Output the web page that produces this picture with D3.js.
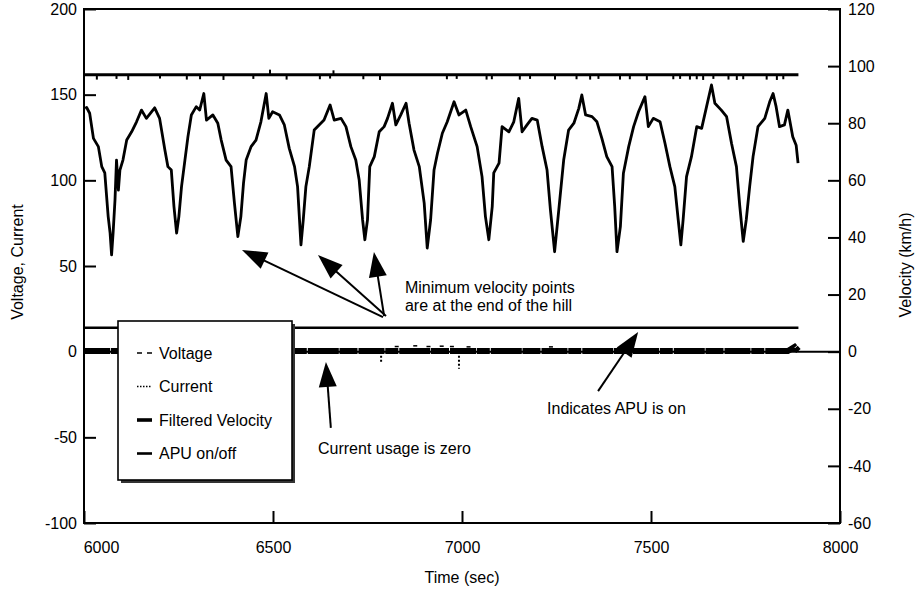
<!DOCTYPE html>
<html>
<head>
<meta charset="utf-8">
<script src="https://d3js.org/d3.v7.min.js"></script>
<style>
    body { margin: 0; background: #fff; }
    svg text { font-family: "Liberation Sans", Arial, Helvetica, sans-serif; font-size: 16px; fill: #000; }
</style>
</head>
<body>
<div id="vis"></div>
<script>
'use strict';

// axis ticks
var timeTicks = [6000, 6500, 7000, 7500, 8000];
var leftTicks = [-100, -50, 0, 50, 100, 150, 200];
var rightTicks = [-60, -40, -20, 0, 20, 40, 60, 80, 100, 120];

// filtered velocity, [time (s), km/h]
var velocity = [
    [6003, 85.2], [6007, 85.5], [6015, 83.5], [6025, 74.7], [6038, 71.8], [6047, 64.8], [6055, 62.6],
    [6064, 47.3], [6069, 41.6], [6073, 33.9], [6077, 41.6], [6082, 53.1], [6086, 67.1], [6091, 56.6],
    [6095, 63.6], [6103, 67.1], [6113, 74.1], [6126, 77.0], [6139, 80.5], [6152, 84.6], [6165, 81.7],
    [6187, 85.4], [6200, 81.7], [6214, 70.6], [6222, 64.8], [6231, 63.6], [6238, 50.8], [6245, 41.5],
    [6251, 47.3], [6258, 57.8], [6267, 67.1], [6275, 75.3], [6284, 82.9], [6297, 85.8], [6306, 84.6],
    [6317, 90.4], [6324, 81.1], [6341, 82.9], [6354, 80.0], [6363, 74.1], [6376, 67.1], [6389, 64.8],
    [6398, 52.0], [6407, 40.3], [6415, 47.3], [6422, 59.0], [6429, 67.1], [6442, 71.8], [6455, 74.1],
    [6468, 80.5], [6482, 90.4], [6489, 81.7], [6499, 84.0], [6517, 82.9], [6530, 79.4], [6543, 71.2],
    [6557, 64.8], [6565, 57.8], [6574, 37.4], [6580, 46.1], [6587, 57.8], [6596, 64.8], [6609, 77.6],
    [6622, 79.4], [6635, 81.1], [6651, 86.4], [6662, 81.1], [6680, 81.7], [6693, 78.8], [6706, 71.8],
    [6719, 67.1], [6728, 60.1], [6737, 46.2], [6743, 39.2], [6750, 46.2], [6756, 64.8], [6768, 68.3],
    [6781, 77.0], [6794, 78.8], [6803, 81.7], [6816, 87.0], [6825, 79.4], [6838, 82.9], [6852, 87.0],
    [6860, 80.0], [6873, 70.6], [6887, 64.8], [6900, 52.0], [6908, 36.3], [6917, 46.2], [6926, 63.6],
    [6935, 69.4], [6948, 76.5], [6961, 80.5], [6979, 87.5], [6992, 82.9], [7010, 84.6], [7023, 78.8],
    [7040, 71.8], [7053, 61.3], [7062, 47.3], [7071, 39.2], [7080, 50.8], [7084, 62.6], [7098, 66.0],
    [7106, 78.8], [7124, 77.0], [7137, 80.5], [7150, 88.7], [7159, 77.0], [7172, 79.4], [7185, 81.7],
    [7199, 81.1], [7212, 71.8], [7225, 63.6], [7234, 49.6], [7245, 35.0], [7256, 49.6], [7269, 67.1],
    [7282, 77.6], [7296, 80.0], [7309, 85.2], [7317, 89.9], [7327, 82.9], [7344, 82.3], [7357, 80.5],
    [7370, 74.7], [7383, 68.3], [7397, 64.8], [7404, 50.8], [7410, 35.0], [7419, 43.8], [7427, 62.5],
    [7441, 71.8], [7454, 78.8], [7467, 84.0], [7484, 89.3], [7493, 78.8], [7506, 81.7], [7524, 80.5],
    [7537, 73.0], [7550, 64.8], [7563, 57.8], [7572, 46.2], [7579, 37.4], [7585, 46.2], [7594, 61.3],
    [7607, 68.3], [7621, 78.8], [7634, 78.2], [7647, 85.8], [7660, 93.4], [7669, 87.0], [7686, 84.6],
    [7700, 82.3], [7713, 73.0], [7726, 64.8], [7735, 50.8], [7744, 38.6], [7752, 46.2], [7761, 57.8],
    [7770, 68.3], [7783, 78.8], [7801, 81.7], [7814, 87.5], [7823, 90.4], [7831, 85.8], [7840, 78.8],
    [7853, 79.4], [7862, 84.6], [7875, 75.3], [7884, 72.3], [7889, 66.0]
];

// voltage: flat level with small glitches
var voltageLevel = 161.6;
var voltage = [[6000, 161.6], [7890, 161.6]];
var voltageGlitches = [
    [6034, 158.8], [6086, 159.2], [6117, 158.6], [6201, 159.4], [6272, 158.8], [6307, 159.0],
    [6369, 158.6], [6448, 159.2], [6492, 164.6], [6536, 158.8], [6624, 159.0], [6651, 159.4],
    [6660, 164.2], [6739, 159.0], [6783, 158.6], [6960, 159.0], [6986, 159.2], [7065, 158.8],
    [7079, 159.0], [7153, 158.8], [7180, 159.2], [7246, 158.8], [7303, 159.0], [7339, 158.8],
    [7361, 159.2], [7418, 158.8], [7444, 159.0], [7489, 158.6], [7559, 159.0], [7577, 159.2],
    [7603, 158.8], [7621, 159.0], [7638, 158.6], [7665, 159.2], [7705, 158.8], [7727, 158.6],
    [7744, 159.0], [7806, 158.8], [7833, 158.6], [7850, 159.0]
];

// current: near zero, a few blips
var current = [[6000, 0.4], [7862, 0.4], [7880, 2.8], [7890, 0.4]];
var currentSpikes = [[6786, -6.5], [6992, -10]];
var currentBits = [[6822, 3], [6871, 3.4], [6906, 3], [6941, 3.2], [6968, 3], [7012, 2.8], [7230, 2.8]];

// APU on/off and zero reference
var apu = [[6000, 14], [7890, 14]];
var zeroLine = [[6000, 0], [8000, 0]];

var legendItems = ['Voltage', 'Current', 'Filtered Velocity', 'APU on/off'];

// annotations, in [time, left-axis value]
var notes = [
    { t: 6849, v: 34.4, text: 'Minimum velocity points' },
    { t: 6849, v: 24.0, text: 'are at the end of the hill' },
    { t: 7225, v: -36.3, text: 'Indicates APU is on' },
    { t: 6619, v: -59.7, text: 'Current usage is zero' }
];
var arrows = [
    { from: [6791, 20.2], to: [6418, 59.4] },
    { from: [6799, 20.8], to: [6619, 56.4] },
    { from: [6794, 20.8], to: [6767, 58.2] },
    { from: [7360, -23.0], to: [7466, 11.5] },
    { from: [6653, -44.5], to: [6640, -6.0] }
];

var W = 919, H = 592;
var padL = 84, padR = 840, padT = 9, padB = 523;

var svg = d3.select('#vis').append('svg')
    .attr('width', W)
    .attr('height', H);

var x = d3.scaleLinear().domain([6000, 8000]).range([padL, padR]);
var yL = d3.scaleLinear().domain([-100, 200]).range([padB, padT]);
var yR = d3.scaleLinear().domain([-60, 120]).range([padB, padT]);

var lineL = d3.line().x(function (d) { return x(d[0]); }).y(function (d) { return yL(d[1]); });
var lineR = d3.line().x(function (d) { return x(d[0]); }).y(function (d) { return yR(d[1]); });

// plain hyphen minus, like the original
var plainNum = function (d) { return String(d); };

/* data lines */
var plot = svg.append('g');

plot.append('path').attr('d', lineL(zeroLine))
    .attr('fill', 'none').attr('stroke', '#000').attr('stroke-width', 2);

plot.append('path').attr('d', lineL(apu))
    .attr('fill', 'none').attr('stroke', '#000').attr('stroke-width', 2.6);

// current band, speckled
plot.append('path').attr('d', lineL(current))
    .attr('fill', 'none').attr('stroke', '#000').attr('stroke-width', 6)
    .attr('stroke-dasharray', '26,0.8,13,1,31,0.7,18,1');
plot.selectAll('.cur-bit').data(currentBits).enter().append('line')
    .attr('x1', function (d) { return x(d[0]); })
    .attr('x2', function (d) { return x(d[0]) + 4; })
    .attr('y1', function (d) { return yL(d[1]); })
    .attr('y2', function (d) { return yL(d[1]); })
    .attr('stroke', '#000').attr('stroke-width', 1.5);
plot.selectAll('.cur-spike').data(currentSpikes).enter().append('line')
    .attr('x1', function (d) { return x(d[0]); })
    .attr('x2', function (d) { return x(d[0]); })
    .attr('y1', yL(0))
    .attr('y2', function (d) { return yL(d[1]); })
    .attr('stroke', '#000').attr('stroke-width', 2)
    .attr('stroke-dasharray', '2,2');

// voltage
plot.append('path').attr('d', lineL(voltage))
    .attr('fill', 'none').attr('stroke', '#000').attr('stroke-width', 3);
plot.selectAll('.volt-glitch').data(voltageGlitches).enter().append('line')
    .attr('x1', function (d) { return x(d[0]); })
    .attr('x2', function (d) { return x(d[0]); })
    .attr('y1', yL(voltageLevel))
    .attr('y2', function (d) { return yL(d[1]); })
    .attr('stroke', '#000').attr('stroke-width', 2);

// velocity on right axis
plot.append('path').attr('d', lineR(velocity))
    .attr('fill', 'none').attr('stroke', '#000').attr('stroke-width', 2.8)
    .attr('stroke-linejoin', 'round');

/* axes, ticks pointing inward */
function styleAxis(g) {
    g.select('.domain').remove();
    g.selectAll('.tick line').attr('stroke', '#000').attr('stroke-width', 2);
    g.selectAll('.tick text').attr('font-size', null).attr('font-family', null);
}

svg.append('g').attr('transform', 'translate(' + padL + ',0)')
    .call(d3.axisLeft(yL).tickValues(leftTicks).tickFormat(plainNum)
        .tickSizeInner(-12).tickSizeOuter(0).tickPadding(7))
    .call(styleAxis);

svg.append('g').attr('transform', 'translate(' + padR + ',0)')
    .call(d3.axisRight(yR).tickValues(rightTicks).tickFormat(plainNum)
        .tickSizeInner(-12).tickSizeOuter(0).tickPadding(8))
    .call(styleAxis);

var xAxis = svg.append('g').attr('transform', 'translate(0,' + padB + ')')
    .call(d3.axisBottom(x).tickValues(timeTicks).tickFormat(plainNum)
        .tickSizeInner(-12).tickSizeOuter(0).tickPadding(19))
    .call(styleAxis);
// first label sits a bit right of the corner
xAxis.selectAll('.tick text').filter(function (d) { return d === 6000; }).attr('dx', 17);

// frame
svg.append('rect')
    .attr('x', padL).attr('y', padT)
    .attr('width', padR - padL).attr('height', padB - padT)
    .attr('fill', 'none').attr('stroke', '#000').attr('stroke-width', 2);

/* axis titles */
svg.append('text').attr('transform', 'translate(17,262) rotate(-90)')
    .attr('text-anchor', 'middle').attr('dy', '0.35em').text('Voltage, Current');
svg.append('text').attr('transform', 'translate(905,265) rotate(-90)')
    .attr('text-anchor', 'middle').attr('dy', '0.35em').text('Velocity (km/h)');
svg.append('text').attr('x', (padL + padR) / 2).attr('y', 583)
    .attr('text-anchor', 'middle').text('Time (sec)');

/* legend box with drop shadow */
var lg = svg.append('g').attr('transform', 'translate(118,321)');
lg.append('rect').attr('x', 3).attr('y', 3).attr('width', 174).attr('height', 159)
    .attr('fill', '#333');
lg.append('rect').attr('width', 174).attr('height', 159)
    .attr('fill', '#fff').attr('stroke', '#000').attr('stroke-width', 1.6);

var symbolStyles = [
    { w: 1.6, dash: '5,5' },
    { w: 1.6, dash: '1.5,1.5' },
    { w: 3.6, dash: null },
    { w: 2.6, dash: null }
];
var rows = lg.selectAll('.legend-row').data(legendItems).enter().append('g')
    .attr('transform', function (d, i) { return 'translate(0,' + (32 + i * 33.5) + ')'; });
rows.append('line')
    .attr('x1', 19).attr('x2', 34).attr('y1', 0).attr('y2', 0)
    .attr('stroke', '#000')
    .attr('stroke-width', function (d, i) { return symbolStyles[i].w; })
    .attr('stroke-dasharray', function (d, i) { return symbolStyles[i].dash; });
rows.append('text').attr('x', 41).attr('dy', '0.35em').text(function (d) { return d; });

/* annotations */
svg.selectAll('.note').data(notes).enter().append('text')
    .attr('x', function (d) { return x(d.t); })
    .attr('y', function (d) { return yL(d.v); })
    .text(function (d) { return d.text; });

var headLen = 25, headHalf = 9;
arrows.forEach(function (a) {
    var x0 = x(a.from[0]), y0 = yL(a.from[1]);
    var x1 = x(a.to[0]), y1 = yL(a.to[1]);
    var dx = x1 - x0, dy = y1 - y0;
    var len = Math.sqrt(dx * dx + dy * dy);
    var ux = dx / len, uy = dy / len;
    var bx = x1 - ux * headLen, by = y1 - uy * headLen;
    svg.append('line')
        .attr('x1', x0).attr('y1', y0).attr('x2', bx + ux * 2).attr('y2', by + uy * 2)
        .attr('stroke', '#000').attr('stroke-width', 2);
    svg.append('path')
        .attr('d', 'M' + x1 + ',' + y1 +
            'L' + (bx - uy * headHalf) + ',' + (by + ux * headHalf) +
            'L' + (bx + uy * headHalf) + ',' + (by - ux * headHalf) + 'Z')
        .attr('fill', '#000');
});
</script>
</body>
</html>
